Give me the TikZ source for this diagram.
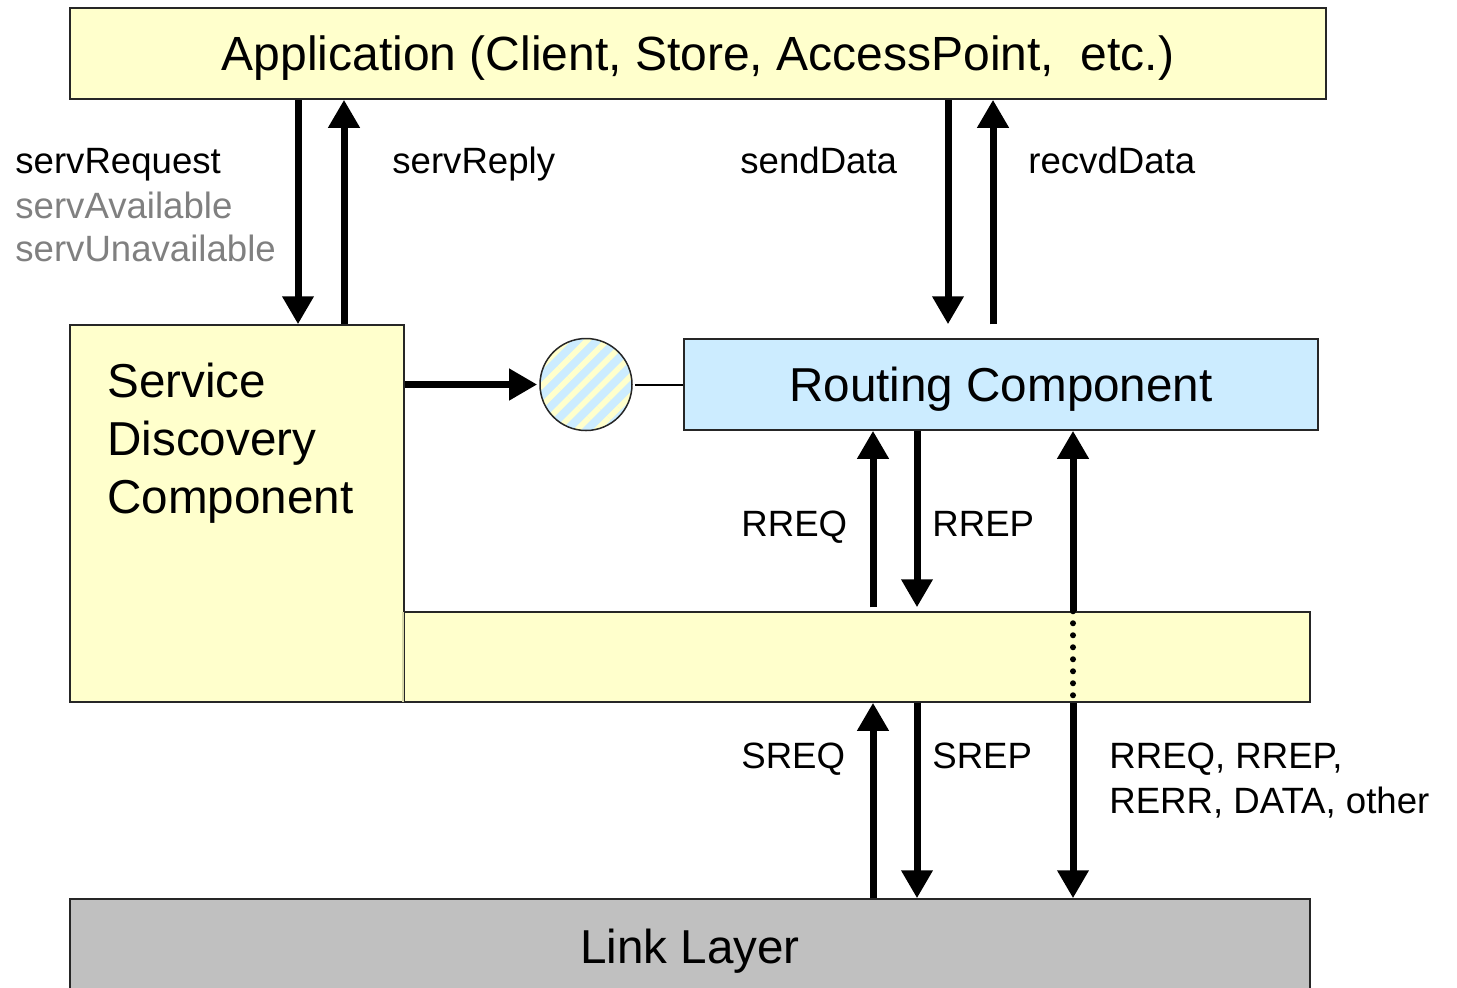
\documentclass[tikz,border=0pt]{standalone}
\usepackage{fontspec}
\setmainfont{Liberation Sans}
\usepackage{tikz}
\usetikzlibrary{arrows.meta,patterns.meta,positioning}
\definecolor{sdyellow}{RGB}{255,255,204}
\definecolor{sdblue}{RGB}{204,236,255}
\definecolor{sdgray}{RGB}{192,192,192}
\definecolor{sdtext}{RGB}{128,128,128}
\definecolor{sdseam}{RGB}{216,216,170}
\tikzstyle{box} = [draw=black!85, line width=0.75pt, inner sep=0pt, text depth=0pt]
\tikzstyle{sig} = [line width=3.5pt, -{Triangle[length=14pt,width=15pt]}]
\tikzstyle{lbl} = [inner sep=0pt, anchor=base west, font=\fontsize{18.3}{22}\selectfont]
\tikzstyle{big} = [font=\fontsize{23.8}{29}\selectfont]

\begin{document}
\begin{tikzpicture}[x=0.5pt, y=-0.5pt]
\useasboundingbox (0,0) rectangle (1457,987);

% Boxes
\node[box, fill=sdyellow, minimum width=628pt, minimum height=45.5pt, font=\fontsize{24}{30}\selectfont] (app) at (698,53.5) {Application (Client, Store, AccessPoint,\ \ etc.)};
\node[box, fill=sdyellow, minimum width=167pt, minimum height=188.5pt] (sd) at (237,513.5) {};
\node[box, fill=sdyellow, minimum width=453pt, minimum height=45pt] (bar) at (857,657) {};
\draw[sdseam, line width=1.2pt, shorten <=0.5pt, shorten >=0.5pt] (bar.north west) -- (bar.south west);
\node[box, big, fill=sdblue, minimum width=317pt, minimum height=45.5pt] (routing) at (1001,384.5) {Routing Component};
\node[box, big, fill=sdgray, minimum width=620pt, minimum height=47pt] (link) at (690,946) {Link Layer};
\node[draw=black!85, line width=0.75pt, circle, minimum size=46pt, inner sep=0pt,
      preaction={fill=sdblue}, pattern={Lines[angle=45,distance=7pt,line width=2.8pt]}, pattern color=sdyellow] (circ) at (586,384.5) {};

% Service discovery text
\node[big, inner sep=0pt, anchor=base west] (sdl1) at (107,397) {Service};
\node[big, inner sep=0pt, anchor=base west] (sdl2) at (107,455) {Discovery};
\node[big, inner sep=0pt, anchor=base west] (sdl3) at (107,513) {Component};

% Columns
\coordinate (colreq) at (298,0);
\coordinate (colrep) at (344,0);
\coordinate (colsend) at (948,0);
\coordinate (colrecv) at (993,0);
\coordinate (colup) at (873,0);
\coordinate (coldown) at (917,0);
\coordinate (colbus) at (1073,0);

% Connections
\draw[sig] (app.south -| colreq) -- (sd.north -| colreq);
\draw[sig] (sd.north -| colrep) -- (app.south -| colrep);
\draw[sig] (app.south -| colsend) -- ([yshift=7pt]routing.north -| colsend);
\draw[sig] ([yshift=7pt]routing.north -| colrecv) -- (app.south -| colrecv);

\draw[sig] (sd.east |- circ.west) -- (circ.west);
\draw[line width=1pt] (circ.east) -- (routing.west |- circ.east);

\draw[sig] ([yshift=2pt]bar.north -| colup) -- (routing.south -| colup);
\draw[sig] (routing.south -| coldown) -- ([yshift=2pt]bar.north -| coldown);
\draw[sig] (bar.north -| colbus) -- (routing.south -| colbus);
\draw[line width=3pt, dash pattern=on 0pt off 6pt, line cap=round] (bar.north -| colbus) -- (bar.south -| colbus);
\draw[sig] (bar.south -| colbus) -- (link.north -| colbus);

\draw[sig] (link.north -| colup) -- (bar.south -| colup);
\draw[sig] (bar.south -| coldown) -- (link.north -| coldown);

% Labels
\node[lbl] (lreq) at (15,173) {servRequest};
\node[lbl, text=sdtext] (lavail) at (15,218) {servAvailable};
\node[lbl, text=sdtext] (lunavail) at (15,261) {servUnavailable};
\node[lbl] (lreply) at (392,173) {servReply};
\node[lbl] (lsend) at (740,173) {sendData};
\node[lbl] (lrecv) at (1028,173) {recvdData};
\node[lbl] (lrreq) at (741,536) {RREQ};
\node[lbl] (lrrep) at (932,536) {RREP};
\node[lbl] (lsreq) at (741,768) {SREQ};
\node[lbl] (lsrep) at (932,768) {SREP};
\node[lbl] (lbus1) at (1109,768) {RREQ, RREP,};
\node[lbl] (lbus2) at (1109,813) {RERR, DATA, other};
\end{tikzpicture}
\end{document}
